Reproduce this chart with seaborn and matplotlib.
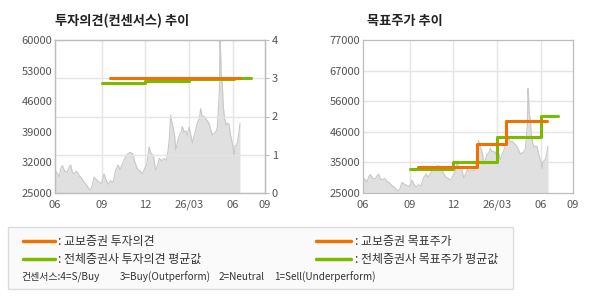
import matplotlib
matplotlib.use("Agg")
import matplotlib.pyplot as plt
import seaborn as sns
import pandas as pd
import numpy as np
from matplotlib.lines import Line2D
from matplotlib.patches import Rectangle

sns.set_style("white")
plt.rcParams['font.family'] = ['Noto Sans CJK KR', 'DejaVu Sans']

# ---- data ----
x_tick_pos = [0, 66.7, 128.6, 192, 254.3, 300]
x_tick_labels = ["06", "09", "12", "26/03", "06", "09"]

price_idx = [0, 3.3, 5.7, 8.1, 10.5, 13.8, 17.6, 20, 22.4, 24.8, 27.1, 31, 34.3, 37.6, 41.4,
             44.3, 47.1, 50, 52.9, 55.7, 59.5, 62.9, 66.7, 70, 73.3, 75.7, 79.5, 82.9, 86.7,
             90, 92.9, 96.7, 99.5, 103.3, 107.1, 110.9, 113.8, 117.6, 121.4, 124.8, 128.1,
             131, 134.3, 136.7, 140.5, 143.8, 146.2, 149, 152.4, 155.7, 159, 161.4, 163.3,
             165.2, 167.1, 169, 171, 172.4, 174.8, 177.1, 180, 181.9, 184.3, 186.7, 189,
             191.4, 193.8, 196.2, 198.6, 201, 203.3, 206.2, 208.1, 210.5, 212.9, 215.2,
             217.6, 220, 222.4, 224.8, 227.1, 229.5, 231.9, 233.3, 234.8, 235.7, 236.7,
             237.6, 239, 240.5, 242.4, 244.3, 246.2, 248.6, 250.5, 252.4, 254.3, 255.7,
             257.1, 259, 261, 262.9, 264.3]
price = [30200, 29500, 28700, 30500, 31300, 30000, 29800, 30800, 31400, 29800, 29400, 30000,
         29000, 28500, 27500, 27000, 26300, 25600, 26500, 28600, 28000, 27500, 27200, 29400,
         27800, 27000, 27800, 27400, 30200, 31400, 30400, 31800, 32900, 33900, 34300, 34000,
         32200, 30600, 30000, 29400, 30600, 31500, 35500, 34200, 33500, 30200, 31200, 32900,
         32400, 32900, 32500, 34500, 37500, 42800, 41000, 39800, 38000, 34800, 36500, 38000,
         38800, 40200, 39000, 39200, 38200, 40000, 38500, 36400, 38000, 39400, 41000, 42000,
         44300, 42200, 42600, 42000, 41500, 40900, 39500, 38300, 38600, 38900, 40000, 44000,
         48000, 60500, 56500, 52000, 50000, 44500, 42000, 40500, 41000, 40800, 38500, 37000,
         35500, 33300, 35800, 35900, 36800, 39000, 40900]

# consensus (left chart, right axis 0-4)
kb_opinion_idx = [78.1, 263.8]
kb_opinion = [3.0, 3.0]
avg_opinion_idx = [66.7, 128.6, 191.9, 255.7, 279.5]
avg_opinion = [2.87, 2.92, 2.97, 3.0, 3.0]

# target price (right chart)
kb_target_idx = [78.6, 163.3, 203.8, 263.3]
kb_target = [33900, 41600, 49600, 49600]
avg_target_idx = [67.6, 128.6, 191.4, 254.8, 278.6]
avg_target = [33200, 35500, 43900, 51300, 51300]

left_yticks = [25000, 32000, 39000, 46000, 53000, 60000]
right_yticks_l = [0, 1, 2, 3, 4]
tp_tick_labels = ["25000", "35000", "46000", "56000", "67000", "77000"]

legend_labels = [": 교보증권 투자의견", ": 전체증권사 투자의견 평균값",
                 ": 교보증권 목표주가", ": 전체증권사 목표주가 평균값"]
consensus_parts = ["컨센서스:4=S/Buy", "3=Buy(Outperform)", "2=Neutral", "1=Sell(Underperform)"]

ORANGE = "#ef7200"
GREEN = "#7cba00"
GRID = "#e4e4e4"
SPINE = "#bdbdbd"
TXT = "#555555"

df_price = pd.DataFrame({"idx": price_idx, "price": price})

fig = plt.figure(figsize=(5.9, 3.0), dpi=100)
fig.patch.set_facecolor("white")

def style_axes(ax):
    for s in ax.spines.values():
        s.set_color(SPINE)
        s.set_linewidth(0.9)
    ax.set_xlim(0, 300)
    ax.set_xticks(x_tick_pos)
    ax.set_xticklabels(x_tick_labels)
    ax.tick_params(axis='x', direction='out', length=3, color=SPINE, labelsize=8,
                   labelcolor=TXT, pad=2)
    ax.tick_params(axis='y', length=0, labelsize=8, labelcolor=TXT, pad=2)
    ax.set_xlabel("")
    ax.set_ylabel("")
    for xp in x_tick_pos[1:-1]:
        ax.axvline(xp, color=GRID, lw=1, zorder=0)

def draw_price(ax):
    ax.fill_between(df_price["idx"], df_price["price"], 0, color="#e0e0e0", lw=0, zorder=1)
    sns.lineplot(data=df_price, x="idx", y="price", ax=ax, color="#c8c8c8", lw=0.8, zorder=2)

# ---- left chart ----
ax1 = fig.add_axes([55/590, 1-193/300, 210/590, 153/300])
draw_price(ax1)
ax1.set_ylim(25000, 60000)
ax1.set_yticks(left_yticks)
ax1.set_yticklabels([str(v) for v in left_yticks])
style_axes(ax1)

ax1r = ax1.twinx()
ax1r.set_ylim(0, 4)
ax1r.set_yticks(right_yticks_l)
for yv in right_yticks_l[1:-1]:
    ax1r.axhline(yv, color=GRID, lw=1, zorder=0)
sns.lineplot(x=avg_opinion_idx, y=avg_opinion, ax=ax1r, color=GREEN, lw=2.2,
             drawstyle='steps-post', zorder=3)
sns.lineplot(x=kb_opinion_idx, y=kb_opinion, ax=ax1r, color=ORANGE, lw=2.2,
             drawstyle='steps-post', zorder=4)
ax1r.set_xlim(0, 300)
for s in ax1r.spines.values():
    s.set_color(SPINE)
    s.set_linewidth(0.9)
ax1r.tick_params(axis='y', direction='out', length=3, color=SPINE, labelsize=8,
                 labelcolor=TXT, pad=2)
ax1r.set_ylabel("")
ax1.set_zorder(0)
ax1r.set_zorder(1)
ax1r.patch.set_visible(False)

fig.text(55/590, 1-21/300, "투자의견(컨센서스) 추이", fontsize=9.5, fontweight='bold',
         color="#222222", va='center', ha='left')

# ---- right chart ----
ax2 = fig.add_axes([363/590, 1-193/300, 210/590, 153/300])
draw_price(ax2)
ax2.set_ylim(25000, 77000)
tp_ticks = np.linspace(25000, 77000, 6)
ax2.set_yticks(tp_ticks)
ax2.set_yticklabels(tp_tick_labels)
style_axes(ax2)
for yv in tp_ticks[1:-1]:
    ax2.axhline(yv, color=GRID, lw=1, zorder=0)
sns.lineplot(x=avg_target_idx, y=avg_target, ax=ax2, color=GREEN, lw=2.2,
             drawstyle='steps-post', zorder=3)
sns.lineplot(x=kb_target_idx, y=kb_target, ax=ax2, color=ORANGE, lw=2.2,
             drawstyle='steps-post', zorder=4)
ax2.set_xlabel("")
ax2.set_ylabel("")

fig.text(367/590, 1-21/300, "목표주가 추이", fontsize=9.5, fontweight='bold',
         color="#222222", va='center', ha='left')

# ---- legend box ----
fig.add_artist(Rectangle((8/590, 1-289/300), 505/590, 62/300, transform=fig.transFigure,
                         facecolor="#fafafa", edgecolor="#dcdcdc", lw=1))

def leg_line(x0, x1, y, color):
    fig.add_artist(Line2D([x0/590, x1/590], [1-y/300, 1-y/300], color=color, lw=2.5,
                          transform=fig.transFigure))

def leg_text(x, y, s, size=8.6):
    fig.text(x/590, 1-y/300, s, fontsize=size, color="#333333", va='center', ha='left')

leg_line(23, 55, 241, ORANGE)
leg_text(58, 241, legend_labels[0])
leg_line(23, 55, 259, GREEN)
leg_text(58, 259, legend_labels[1])
leg_line(316, 351, 241, ORANGE)
leg_text(355, 241, legend_labels[2])
leg_line(316, 351, 259, GREEN)
leg_text(355, 259, legend_labels[3])
for xp, s in zip([21, 120, 219, 274], consensus_parts):
    leg_text(xp, 277, s, size=7.2)

fig.savefig("out.png", dpi=100)
